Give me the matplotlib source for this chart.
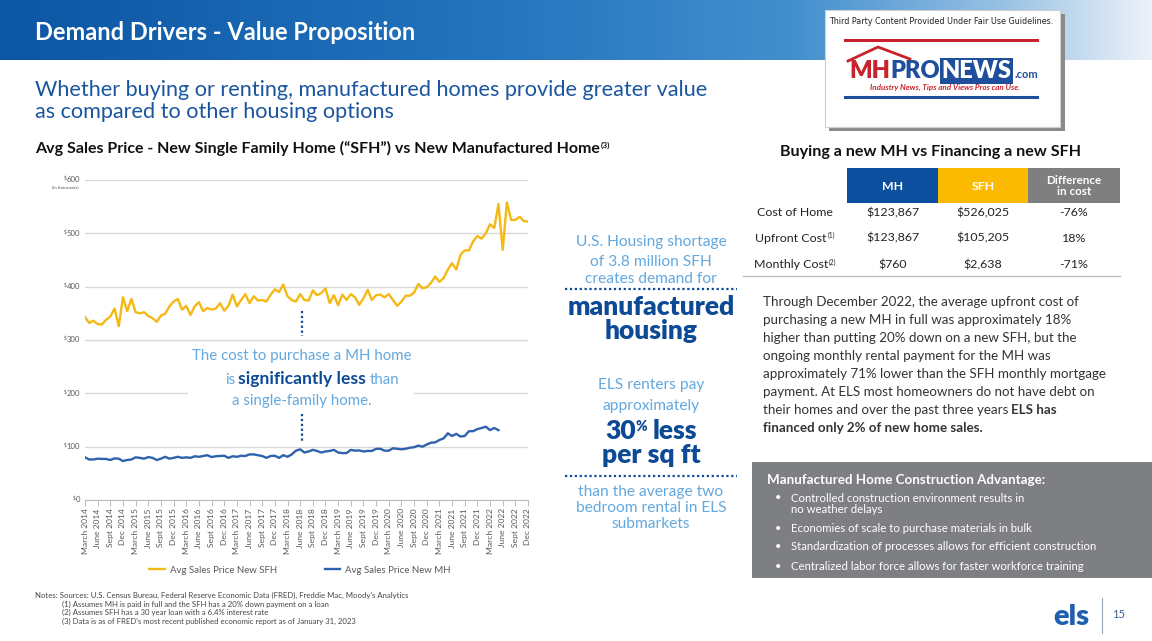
import numpy as np
import matplotlib.pyplot as plt
from matplotlib.patches import Rectangle
from matplotlib.lines import Line2D

plt.rcParams['font.family'] = ['Lato', 'DejaVu Sans']

# monthly avg sales price (thousands), March 2014 - Dec 2022
sfh_price = [343, 332, 336, 330, 329, 338, 344, 359, 326, 380, 354, 377, 352, 350, 352, 345, 341, 334, 346, 349,
             363, 372, 377, 357, 364, 347, 363, 371, 354, 360, 357, 359, 369, 355, 364, 385, 363, 375, 386, 369,
             382, 374, 375, 372, 385, 395, 390, 404, 382, 375, 372, 386, 375, 374, 393, 384, 388, 397, 369, 384,
             365, 385, 375, 386, 380, 366, 378, 394, 375, 384, 385, 380, 386, 375, 364, 372, 383, 383, 389, 405,
             397, 399, 407, 419, 409, 416, 432, 444, 432, 460, 468, 468, 485, 495, 490, 500, 517, 510, 555, 469,
             558, 525, 525, 531, 523, 522]
# March 2014 - May 2022
mh_price = [80, 76, 76, 77.5, 77, 77, 75, 78, 77.5, 73, 75, 76, 80, 79, 77.5, 80.5, 79, 75, 77.5, 81,
            77.5, 79, 81, 79, 80, 79, 82, 81, 82.5, 84, 80.5, 82, 82.5, 83, 79, 82, 81, 83, 82.5, 85.5,
            85.5, 84, 82.5, 79, 82.5, 83, 79, 84, 81, 85.5, 92.5, 95, 89, 91, 94, 92, 89, 91, 92, 94,
            89, 88, 88, 94, 92.5, 93, 91, 92, 92, 96, 96, 92.5, 92.5, 97, 96, 95, 96, 98, 99, 102,
            100, 104, 107.5, 108, 112.5, 115.6, 125, 120, 124, 119, 120, 129, 129, 133, 135, 137.5, 131, 135, 131]
quarters = ['March', 'June', 'Sept', 'Dec']
years = list(range(2014, 2023))
tick_labels = [f'{q} {y}' for y in years for q in quarters]
y_ticks = [0, 100, 200, 300, 400, 500, 600]

table_cols = ['MH', 'SFH', 'Difference\nin cost']
table_rows = ['Cost of Home', 'Upfront Cost', 'Monthly Cost']
row_notes = ['', '(1)', '(2)']
mh_vals = ['$123,867', '$123,867', '$760']
sfh_vals = ['$526,025', '$105,205', '$2,638']
diff_vals = ['-76%', '18%', '-71%']

bullets = ['Controlled construction environment results in\nno weather delays',
           'Economies of scale to purchase materials in bulk',
           'Standardization of processes allows for efficient construction',
           'Centralized labor force allows for faster workforce training']

notes = ['(1) Assumes MH is paid in full and the SFH has a 20% down payment on a loan',
         '(2) Assumes SFH has a 30 year loan with a 6.4% interest rate',
         "(3) Data is as of FRED's most recent published economic report as of January 31, 2023"]

navy = '#0d4a96'
light = '#63a8de'
yellow = '#f5b915'
mhblue = '#2f62ad'
grey_txt = '#595959'

W, H = 1152, 641
fig = plt.figure(figsize=(W / 100, H / 100), dpi=100)
bg = fig.add_axes([0, 0, 1, 1], zorder=0)
bg.set_xlim(0, W)
bg.set_ylim(H, 0)
bg.axis('off')

ax = fig.add_axes([85 / W, (H - 500) / H, 443 / W, 320 / H], zorder=1)
ax.patch.set_alpha(0)

ov = fig.add_axes([0, 0, 1, 1], zorder=2)
ov.set_xlim(0, W)
ov.set_ylim(H, 0)
ov.axis('off')
ov.patch.set_alpha(0)

renderer = fig.canvas.get_renderer()


def rich(axx, x, y, parts, ha='left'):
    # parts: (text, kwargs, gap_after_px, dy)
    arts, cx = [], x
    for s, kw, gap, dy in parts:
        t = axx.text(cx, y + dy, s, va='baseline', ha='left', **kw)
        w = t.get_window_extent(renderer).width
        arts.append(t)
        cx += w + gap
    total = cx - x
    shift = {'left': 0, 'center': -total / 2, 'right': -total}[ha]
    for t in arts:
        px, py = t.get_position()
        t.set_position((px + shift, py))
    return arts


# header band
stops_x = [0, 500, 800, 1000, 1152]
stops_c = np.array([(12, 86, 164), (36, 116, 190), (68, 144, 206), (150, 192, 228), (236, 242, 248)]) / 255
xs = np.linspace(0, W, 400)
grad = np.stack([np.interp(xs, stops_x, stops_c[:, i]) for i in range(3)], axis=-1)[None, :, :]
bg.imshow(grad, extent=[0, W, 60, 0], aspect='auto', zorder=0)
bg.set_xlim(0, W)
bg.set_ylim(H, 0)
bg.text(35, 33, 'Demand Drivers - Value Proposition', color='white', fontsize=17,
        fontweight='bold', va='center')

bg.text(35, 90, 'Whether buying or renting, manufactured homes provide greater value',
        color='#1a56a0', fontsize=15.6, va='center')
bg.text(35, 112, 'as compared to other housing options', color='#1a56a0', fontsize=15.6, va='center')
rich(bg, 35, 153, [('Avg Sales Price - New Single Family Home (\u201cSFH\u201d) vs New Manufactured Home',
                    dict(fontsize=11.5, fontweight='bold', color='#111111'), 0.5, 0),
                   ('(3)', dict(fontsize=6, fontweight='bold', color='#111111'), 0, -5)])

# logo box
bg.add_patch(Rectangle((829, 14), 236, 117, facecolor='#8a8a8a', edgecolor='none', zorder=2))
bg.add_patch(Rectangle((825, 10), 235, 117, facecolor='white', edgecolor='#cfcfcf', lw=0.8, zorder=3))
bg.text(829, 22, 'Third Party Content Provided Under Fair Use Guidelines.', fontsize=5.8,
        family='DejaVu Sans', color='#222222', va='center', zorder=4)
bg.add_line(Line2D([845, 1037], [40, 40], color='#c8232c', lw=2.2, zorder=4))
bg.add_line(Line2D([845, 1037], [97, 97], color='#1f4e9c', lw=2.2, zorder=4))
bg.add_line(Line2D([848, 878, 910], [61, 47, 59], color='#c8232c', lw=2, zorder=4))
rich(bg, 849, 78, [('MH', dict(fontsize=17, fontweight='heavy', color='#c8232c', zorder=4), 0, 0),
                   ('PRO', dict(fontsize=17, fontweight='heavy', color='#1f4e9c', zorder=4), 2, 0),
                   ('NEWS', dict(fontsize=17, fontweight='heavy', color='white', zorder=5,
                                 bbox=dict(boxstyle='square,pad=0.08', fc='#1f4e9c', ec='none')), 3, 0),
                   ('.com', dict(fontsize=8, fontweight='bold', color='#1f4e9c', zorder=4), 0, 0)])
bg.text(945, 87, 'Industry News, Tips and Views Pros can Use.', fontsize=5.8, style='italic',
        fontweight='bold', color='#c8232c', ha='center', va='center', zorder=4)

# chart
x_idx = np.arange(len(sfh_price))
ax.plot(x_idx, sfh_price, color=yellow, lw=1.7, label='Avg Sales Price New SFH', zorder=3)
ax.plot(np.arange(len(mh_price)), mh_price, color=mhblue, lw=1.7, label='Avg Sales Price New MH', zorder=3)
ax.set_xlim(0, 105)
ax.set_ylim(0, 600)
ax.set_yticks(y_ticks)
ax.set_yticklabels([])
ax.yaxis.grid(True, color='#d9d9d9', lw=1)
ax.tick_params(axis='y', length=0)
ax.set_xticks(range(0, 106, 3))
ax.set_xticklabels(tick_labels, rotation=90, fontsize=6.1, color=grey_txt)
ax.tick_params(axis='x', length=4, color='#bfbfbf', pad=2)
for s in ['top', 'right', 'left']:
    ax.spines[s].set_visible(False)
ax.spines['bottom'].set_color('#bfbfbf')
ax.set_axisbelow(True)
for v in y_ticks:
    yp = 500 - v * 320 / 600
    rich(bg, 80, yp + 2.5, [('$', dict(fontsize=3.3, color=grey_txt), 0, -2.5),
                            (str(v), dict(fontsize=5.6, color=grey_txt), 0, 0)], ha='right')
bg.text(79, 187, '(In thousands)', fontsize=3.2, color=grey_txt, ha='right', va='center')
ax.legend(loc='center', bbox_to_anchor=(0.485, -0.219), ncol=2, frameon=False, fontsize=6.9,
          handlelength=1.6, handletextpad=0.5, columnspacing=5.0, labelcolor=grey_txt)

# chart annotation
ov.add_patch(Rectangle((188, 345), 226, 63, facecolor='white', edgecolor='none'))
ov.add_line(Line2D([302, 302], [311, 336], color=navy, lw=1.6, ls=(0, (1, 1.2))))
ov.add_line(Line2D([302, 302], [414, 442], color=navy, lw=1.6, ls=(0, (1, 1.2))))
ov.text(302, 356, 'The cost to purchase a MH home', color=light, fontsize=10.8, ha='center', va='center')
rich(ov, 312, 384, [('is', dict(fontsize=10.8, color=light), 3, 0),
                    ('significantly less', dict(fontsize=12.6, fontweight='bold', color=navy), 4, 0),
                    ('than', dict(fontsize=10.8, color=light), 0, 0)], ha='center')
ov.text(302, 401, 'a single-family home.', color=light, fontsize=10.8, ha='center', va='center')

# middle column
cx = 651
for txt, yy in [('U.S. Housing shortage', 242), ('of 3.8 million SFH', 262), ('creates demand for', 279)]:
    bg.text(cx, yy, txt, color=light, fontsize=11.2, ha='center', va='center')
bg.add_line(Line2D([565, 737], [289, 289], color=navy, lw=1.6, ls=(0, (1, 1.2))))
bg.text(cx, 307, 'manufactured', color=navy, fontsize=19, fontweight='heavy', ha='center', va='center')
bg.text(cx, 331, 'housing', color=navy, fontsize=19, fontweight='heavy', ha='center', va='center')
bg.text(cx, 385, 'ELS renters pay', color=light, fontsize=11.2, ha='center', va='center')
bg.text(cx, 406, 'approximately', color=light, fontsize=11.2, ha='center', va='center')
rich(bg, cx, 439, [('30', dict(fontsize=19, fontweight='heavy', color=navy), 0.5, 0),
                   ('%', dict(fontsize=10, fontweight='heavy', color=navy), 5, -8),
                   ('less', dict(fontsize=19, fontweight='heavy', color=navy), 0, 0)], ha='center')
bg.text(cx, 455, 'per sq ft', color=navy, fontsize=19, fontweight='heavy', ha='center', va='center')
bg.add_line(Line2D([565, 737], [476, 476], color=navy, lw=1.6, ls=(0, (1, 1.2))))
for txt, yy in [('than the average two', 492), ('bedroom rental in ELS', 508), ('submarkets', 524)]:
    bg.text(cx, yy, txt, color=light, fontsize=11.2, ha='center', va='center')

# table
bg.text(931, 152, 'Buying a new MH vs Financing a new SFH', fontsize=11.6, fontweight='bold',
        color='#111111', ha='center', va='center')
col_x = [847, 938, 1028, 1120]
col_c = ['#0b4f9e', '#fbb900', '#7f7f7f']
for i, name in enumerate(table_cols):
    bg.add_patch(Rectangle((col_x[i], 168), col_x[i + 1] - col_x[i], 35, facecolor=col_c[i], edgecolor='none'))
    bg.text((col_x[i] + col_x[i + 1]) / 2, 186, name, color='white', fontsize=8.8 if i < 2 else 8.4,
            fontweight='bold', ha='center', va='center', linespacing=1.05)
row_y = [213, 238, 265]
centers = [(col_x[i] + col_x[i + 1]) / 2 for i in range(3)]
for j, lab in enumerate(table_rows):
    parts = [(lab, dict(fontsize=8.9, color='#222222'), 0.5, 0)]
    if row_notes[j]:
        parts.append((row_notes[j], dict(fontsize=4.8, color='#222222'), 0, -4))
    rich(bg, 795, row_y[j] + 3.5, parts, ha='center')
    for c, vals in zip(centers, [mh_vals, sfh_vals, diff_vals]):
        bg.text(c, row_y[j], vals[j], fontsize=8.9, color='#222222', ha='center', va='center')
bg.add_line(Line2D([743, 1120], [276, 276], color='#bdbdbd', lw=1))

# paragraph
para = ['Through December 2022, the average upfront cost of',
        'purchasing a new MH in full was approximately 18%',
        'higher than putting 20% down on a new SFH, but the',
        'ongoing monthly rental payment for the MH was',
        'approximately 71% lower than the SFH monthly mortgage',
        'payment. At ELS most homeowners do not have debt on']
pk = dict(fontsize=9.6, color='#333333')
for k, line in enumerate(para):
    bg.text(763, 306 + 18 * k, line, va='baseline', **pk)
rich(bg, 763, 306 + 18 * 6, [('their homes and over the past three years', pk, 3,  0),
                             ('ELS has', dict(fontsize=9.6, color='#333333', fontweight='bold'), 0, 0)])
bg.text(763, 306 + 18 * 7, 'financed only 2% of new home sales.', va='baseline', fontweight='bold', **pk)

# grey box
bg.add_patch(Rectangle((752, 462), 400, 116, facecolor='#7e7f83', edgecolor='none'))
bg.text(767, 480, 'Manufactured Home Construction Advantage:', color='white', fontsize=9.6,
        fontweight='bold', va='center')
by = [504, 529, 547, 566]
for b, yy in zip(bullets, by):
    bg.text(778, yy - (6.5 if '\n' in b else 0), '\u2022', color='white', fontsize=8, va='center', ha='center')
    bg.text(791, yy, b, color='white', fontsize=8.2, va='center', linespacing=1.05)

# notes
bg.text(35, 595, 'Notes: Sources: U.S. Census Bureau, Federal Reserve Economic Data (FRED), Freddie Mac, '
        "Moody's Analytics", fontsize=5.6, color='#444444', va='center')
for k, n in enumerate(notes):
    bg.text(62, 604 + 8.5 * k, n, fontsize=5.6, color='#444444', va='center')

# footer logo
bg.text(1071, 617, 'els', color='#1f5fae', fontsize=21, fontweight='heavy', ha='center', va='center')
bg.add_line(Line2D([1102, 1102], [598, 633], color='#9aa7b8', lw=0.8))
bg.text(1119, 615, '15', color='#3a5f8f', fontsize=8, ha='center', va='center')

fig.savefig('out.png', dpi=100)
